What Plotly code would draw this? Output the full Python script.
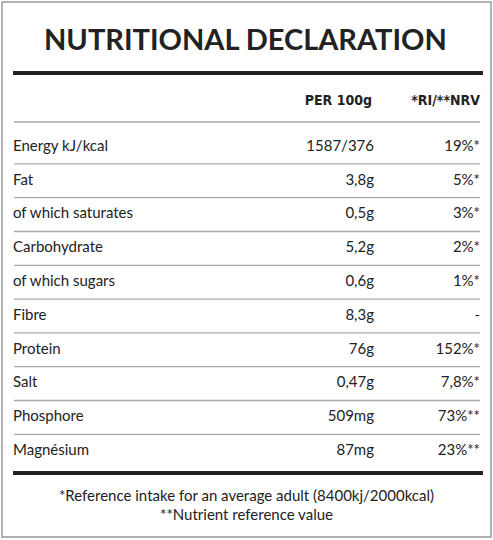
import plotly.graph_objects as go

# table contents
nutrients = ["Energy kJ/kcal", "Fat", "of which saturates", "Carbohydrate", "of which sugars",
             "Fibre", "Protein", "Salt", "Phosphore", "Magnésium"]
per_100g = ["1587/376", "3,8g", "0,5g", "5,2g", "0,6g", "8,3g", "76g", "0,47g", "509mg", "87mg"]
ri_nrv = ["19%*", "5%*", "3%*", "2%*", "1%*", "-", "152%*", "7,8%*", "73%**", "23%**"]
headers = ["PER 100g", "*RI/**NRV"]
footnotes = ["*Reference intake for an average adult (8400kj/2000kcal)", "**Nutrient reference value"]

W, H = 493, 540
row0, step = 147, 33.8
rows_y = [row0 + i * step for i in range(len(nutrients))]
body = dict(family="Lato, Open Sans, sans-serif", size=15, color="#222")

fig = go.Figure()
fig.add_trace(go.Scatter(x=[13] * len(nutrients), y=rows_y, text=nutrients, mode="text",
                         textposition="middle right", textfont=body, hoverinfo="skip"))
fig.add_trace(go.Scatter(x=[374] * len(per_100g), y=rows_y, text=per_100g, mode="text",
                         textposition="middle left", textfont=body, hoverinfo="skip"))
fig.add_trace(go.Scatter(x=[480] * len(ri_nrv), y=rows_y, text=ri_nrv, mode="text",
                         textposition="middle left", textfont=body, hoverinfo="skip"))
fig.add_trace(go.Scatter(x=[372, 480], y=[101, 101], text=headers, mode="text",
                         textposition="middle left", hoverinfo="skip",
                         textfont=dict(family="DejaVu Sans Condensed", size=14, color="#222",
                                       weight="bold")))
fig.add_trace(go.Scatter(x=[W / 2, W / 2], y=[497, 516], text=footnotes, mode="text",
                         textposition="middle center", textfont=body, hoverinfo="skip"))

shapes = [
    dict(type="rect", x0=2, x1=W - 2, y0=2, y1=H - 3, line=dict(color="#999", width=1.5)),
    dict(type="line", x0=13, x1=483, y0=73, y1=73, line=dict(color="#222", width=4)),
    dict(type="line", x0=13, x1=483, y0=473, y1=473, line=dict(color="#222", width=4)),
    dict(type="line", x0=14, x1=480, y0=122, y1=122, line=dict(color="#aaa", width=1.3)),
]
for i in range(len(nutrients) - 1):
    yy = (rows_y[i] + rows_y[i + 1]) / 2
    shapes.append(dict(type="line", x0=14, x1=480, y0=yy, y1=yy, line=dict(color="#aaa", width=1.3)))

fig.update_layout(
    width=W, height=H, margin=dict(l=0, r=0, t=0, b=0),
    paper_bgcolor="white", plot_bgcolor="white", showlegend=False,
    xaxis=dict(range=[0, W], visible=False, fixedrange=True),
    yaxis=dict(range=[H, 0], visible=False, fixedrange=True),
    shapes=shapes,
    annotations=[dict(text="NUTRITIONAL DECLARATION", x=W / 2 - 1, y=38, xref="x", yref="y",
                      showarrow=False, font=dict(family="Lato", size=29, color="#222", weight="bold"))],
)

fig.write_html("out.html", config={"displayModeBar": False},
               post_script="document.body.style.margin='0';document.body.style.overflow='hidden';")
